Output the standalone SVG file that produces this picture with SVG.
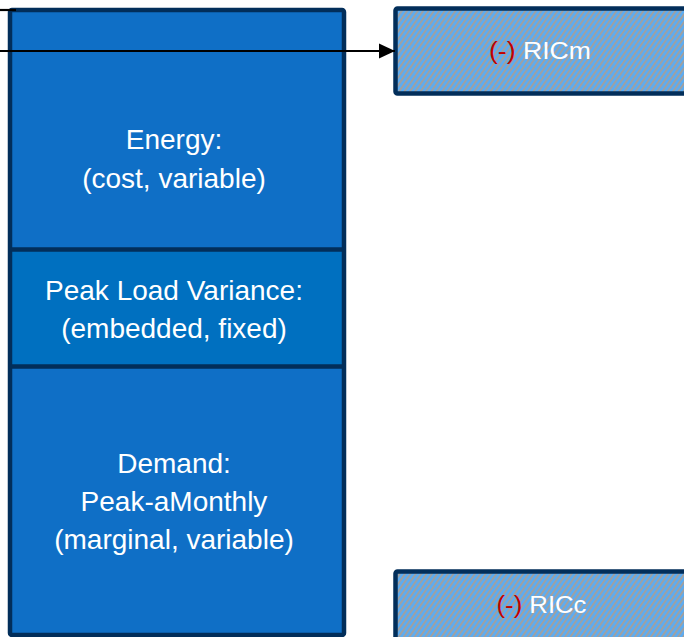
<svg xmlns="http://www.w3.org/2000/svg" width="684" height="637" viewBox="0 0 684 637">
  <defs>
    <style>
      .lbl { font-family: "Liberation Sans", Arial, sans-serif; font-size: 28px; fill: #ffffff; text-anchor: middle; }
      .ric { font-family: "Liberation Sans", Arial, sans-serif; font-size: 23px; fill: #ffffff; }
      .neg { fill: #c00000; }
      .sec { fill: #0f6fc6; }
      .sec-mid { fill: #0070c0; }
      .edge { fill: none; stroke: #022e5a; stroke-width: 4.5; }
      .rule { stroke: #022e5a; stroke-width: 4.5; }
      .hatched { fill: url(#hatch); stroke: #022e5a; stroke-width: 4.5; }
      .wire { stroke: #000000; stroke-width: 2.2; fill: none; }
    </style>
    <!-- light blue with thin grey diagonal stripes -->
    <pattern id="hatch" patternUnits="userSpaceOnUse" width="4.4" height="4.4" patternTransform="rotate(35)">
      <rect width="4.4" height="4.4" fill="#5aacf4"/>
      <line x1="1" y1="0" x2="1" y2="4.4" stroke="#a0a0a0" stroke-width="2"/>
    </pattern>
    <marker id="arrow" markerUnits="userSpaceOnUse" markerWidth="17" markerHeight="16" refX="16" refY="8" orient="auto">
      <path d="M0,0.5 L16,8 L0,15.5 Z" fill="#000000"/>
    </marker>
  </defs>

  <rect width="684" height="637" fill="#ffffff"/>

  <!-- stacked cost block -->
  <g id="cost-stack">
    <rect class="sec" x="10" y="10" width="334" height="240"/>
    <rect class="sec-mid" x="10" y="250" width="334" height="116"/>
    <rect class="sec" x="10" y="366" width="334" height="269"/>
    <rect class="edge" x="10" y="10" width="334" height="625" rx="2"/>
  </g>

  <g id="energy">
    <line class="rule" x1="10" y1="249.5" x2="344" y2="249.5"/>
    <text class="lbl" x="174" y="149">Energy:</text>
    <text class="lbl" x="174" y="188">(cost, variable)</text>
  </g>

  <g id="peak-load-variance">
    <line class="rule" x1="10" y1="366.5" x2="344" y2="366.5"/>
    <text class="lbl" x="174" y="300">Peak Load Variance:</text>
    <text class="lbl" x="174" y="338">(embedded, fixed)</text>
  </g>

  <g id="demand">
    <text class="lbl" x="174" y="473">Demand:</text>
    <text class="lbl" x="174" y="511">Peak-aMonthly</text>
    <text class="lbl" x="174" y="549">(marginal, variable)</text>
  </g>

  <g id="ricm">
    <rect class="hatched" x="395.5" y="8.5" width="300" height="85" rx="2"/>
    <text class="ric" x="489" y="58.5" textLength="102" lengthAdjust="spacingAndGlyphs"><tspan class="neg">(-)</tspan> RICm</text>
  </g>

  <g id="ricc">
    <rect class="hatched" x="395.5" y="571.5" width="300" height="70" rx="2"/>
    <text class="ric" x="496.5" y="613" textLength="90" lengthAdjust="spacingAndGlyphs"><tspan class="neg">(-)</tspan> RICc</text>
  </g>

  <g id="connectors">
    <line class="wire" x1="0" y1="51" x2="395" y2="51" marker-end="url(#arrow)"/>
    <line class="wire" x1="0" y1="10" x2="16" y2="10" stroke-width="1.5"/>
  </g>
</svg>
